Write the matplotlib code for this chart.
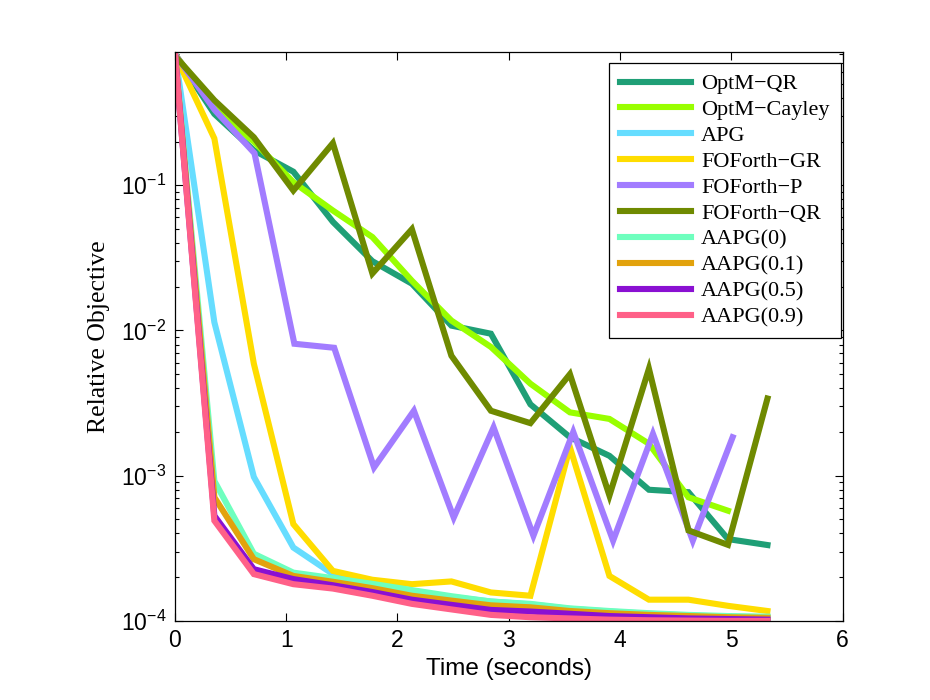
import matplotlib
matplotlib.use("Agg")
import matplotlib.pyplot as plt
from matplotlib.ticker import LogLocator, NullFormatter

plt.rcParams['font.family'] = ['Liberation Sans', 'DejaVu Sans']
plt.rcParams['mathtext.fontset'] = 'custom'
plt.rcParams['mathtext.rm'] = 'Liberation Sans'
plt.rcParams['mathtext.it'] = 'Liberation Sans:italic'
plt.rcParams['mathtext.bf'] = 'Liberation Sans:bold'

# ---- data ----
t_main = [0.0, 0.355, 0.71, 1.065, 1.42, 1.775, 2.13, 2.485, 2.84, 3.195,
          3.55, 3.905, 4.26, 4.615, 4.97, 5.325]
t_p = [0.0, 0.358, 0.716, 1.074, 1.432, 1.79, 2.148, 2.506, 2.864, 3.222,
       3.58, 3.938, 4.296, 4.654, 5.012]

optm_qr = [0.80, 0.31, 0.174, 0.124, 0.056, 0.030, 0.021, 0.0108, 0.0095, 0.0031,
           0.00184, 0.00137, 0.00080, 0.00077, 0.000366, 0.000333]
optm_cayley = [0.80, 0.34, 0.20, 0.105, 0.067, 0.044, 0.022, 0.0117, 0.0077, 0.0043,
               0.00273, 0.00246, 0.00166, 0.00071, 0.000574]
apg = [0.82, 0.0114, 0.00098, 0.00032, 0.00021, 0.00018, 0.000161, 0.000146,
       0.000136, 0.00013, 0.000121, 0.000116, 0.000112, 0.000109, 0.000107, 0.000106]
foforth_gr = [0.80, 0.21, 0.0059, 0.000464, 0.000221, 0.000192, 0.000179, 0.000187,
              0.000157, 0.000149, 0.00157, 0.000204, 0.00014, 0.00014, 0.000127, 0.000117]
foforth_p = [0.80, 0.33, 0.166, 0.0081, 0.0076, 0.00114, 0.0028, 0.000515,
             0.00215, 0.000386, 0.0020, 0.000357, 0.00194, 0.000357, 0.00184]
foforth_qr = [0.78, 0.385, 0.214, 0.092, 0.195, 0.0247, 0.0498, 0.0067, 0.0028, 0.0023,
              0.0050, 0.00073, 0.00545, 0.00042, 0.000334, 0.0034]
aapg_0 = [0.82, 0.00092, 0.00029, 0.000215, 0.000197, 0.00018, 0.000163, 0.000148,
          0.000136, 0.000131, 0.000122, 0.000117, 0.000113, 0.00011, 0.000108, 0.000107]
aapg_01 = [0.82, 0.00071, 0.000266, 0.000204, 0.000186, 0.000168, 0.000149, 0.000138,
           0.000128, 0.000124, 0.000117, 0.000113, 0.00011, 0.000108, 0.000106, 0.000105]
aapg_05 = [0.82, 0.00053, 0.000227, 0.000194, 0.000176, 0.000158, 0.00014, 0.000129,
           0.000119, 0.000116, 0.000112, 0.000108, 0.000106, 0.000104, 0.000103, 0.000102]
aapg_09 = [0.82, 0.00049, 0.00021, 0.000179, 0.000167, 0.000149, 0.000131, 0.00012,
           0.00011, 0.000106, 0.000104, 0.000102, 0.000101, 0.0001005, 0.0001, 0.0001]

labels = ['OptM\u2212QR', 'OptM\u2212Cayley', 'APG', 'FOForth\u2212GR', 'FOForth\u2212P',
          'FOForth\u2212QR', 'AAPG(0)', 'AAPG(0.1)', 'AAPG(0.5)', 'AAPG(0.9)']
colors = ['#1f9f76', '#99ff00', '#66ddff', '#ffdd00', '#a27cff',
          '#6f8a00', '#6effbe', '#e2a20c', '#8a10d2', '#ff6088']
series = [(t_main, optm_qr), (t_main[:15], optm_cayley), (t_main, apg),
          (t_main, foforth_gr), (t_p, foforth_p), (t_main, foforth_qr),
          (t_main, aapg_0), (t_main, aapg_01), (t_main, aapg_05), (t_main, aapg_09)]

fig = plt.figure(figsize=(9.3, 7.0), dpi=100)
ax = fig.add_axes([0.188, 0.113, 0.718, 0.813])

for (t, y), lab, c in zip(series, labels, colors):
    ax.plot(t, y, color=c, lw=4.4, label=lab, solid_joinstyle='miter')

ax.set_yscale('log')
ax.set_xlim(0, 6)
ax.set_ylim(1e-4, 0.83)
ax.set_xticks([0, 1, 2, 3, 4, 5, 6])
ax.yaxis.set_major_locator(LogLocator(base=10, numticks=10))
ax.yaxis.set_minor_locator(LogLocator(base=10, subs=range(2, 10), numticks=20))
ax.yaxis.set_minor_formatter(NullFormatter())

ax.tick_params(which='both', direction='in', top=True, right=True, width=0.8)
ax.tick_params(which='major', length=5.5, labelsize=16.5, pad=6)
ax.tick_params(which='minor', length=3)
for s in ax.spines.values():
    s.set_linewidth(0.9)

ax.set_xlabel('Time (seconds)', fontsize=17.5, labelpad=4)
ax.set_ylabel('Relative Objective', fontsize=18.5,
              family=['Liberation Serif', 'DejaVu Serif'], labelpad=8)

leg = ax.legend(loc='upper right', bbox_to_anchor=(0.997, 0.981), borderaxespad=0,
                prop={'family': ['Liberation Serif', 'DejaVu Serif'], 'size': 16},
                fancybox=False, framealpha=1, edgecolor='black',
                handlelength=3.2, handletextpad=0.45, labelspacing=0.24,
                borderpad=0.5)
leg.get_frame().set_linewidth(0.9)

fig.savefig('out.png', dpi=100)
